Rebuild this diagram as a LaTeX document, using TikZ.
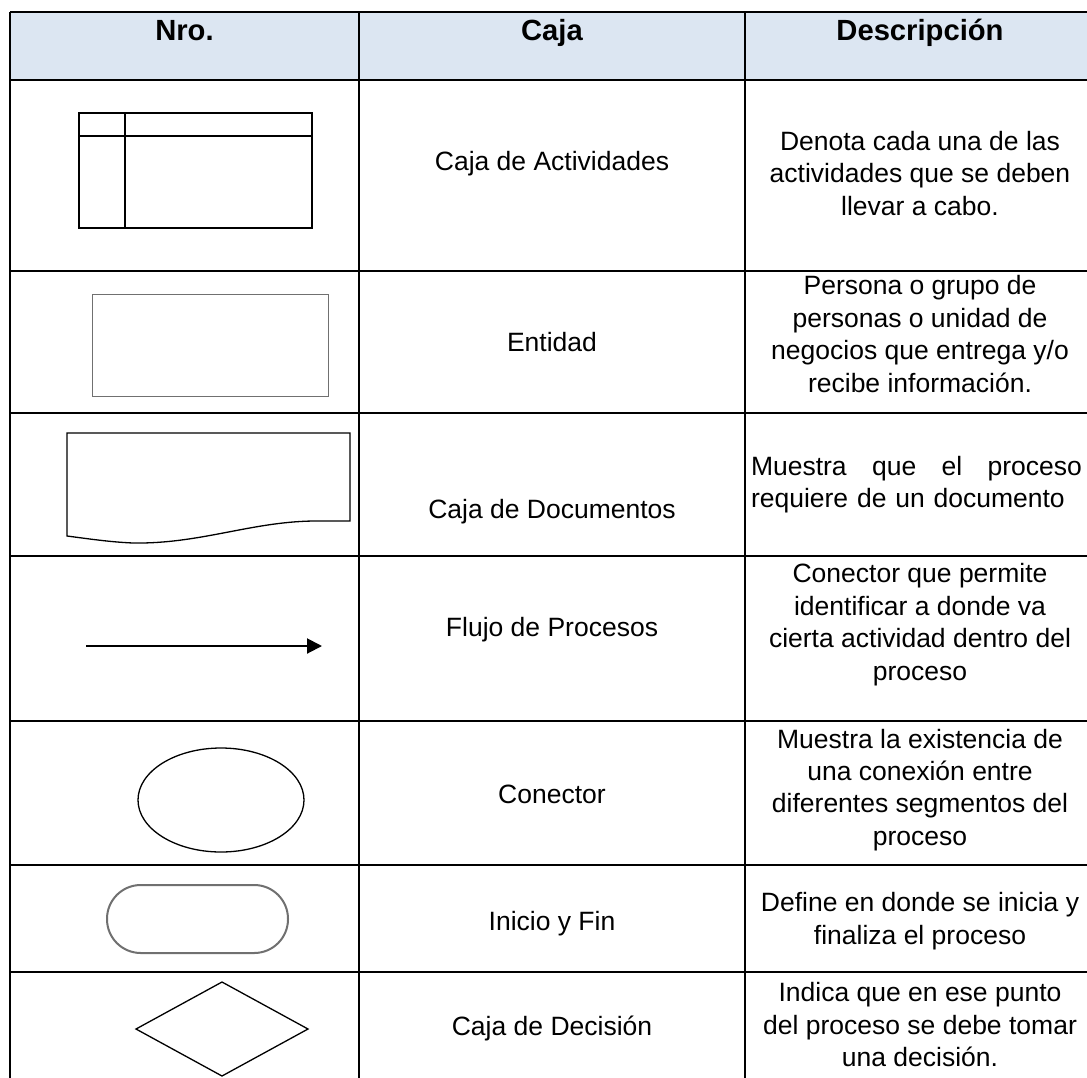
\documentclass[tikz,border=0pt]{standalone}
\usepackage{fontspec}
\setmainfont{Liberation Sans}
\usepackage{xcolor}
\usepackage{tikz}
\usetikzlibrary{arrows.meta}
\definecolor{headblue}{HTML}{DCE6F2}
\definecolor{shapegray}{HTML}{707070}

\begin{document}
\begin{tikzpicture}[x=0.5pt, y=-0.5pt]
\tikzstyle{rule}=[line width=1pt, black]
\tikzstyle{symbol}=[line width=0.65pt, black]
\tikzstyle{head}=[font=\fontsize{14.6}{17}\selectfont\bfseries, anchor=base, inner sep=0pt]
\tikzstyle{boxname}=[font=\fontsize{13.25}{16.2}\selectfont, anchor=base, inner sep=0pt]
\tikzstyle{desc}=[font=\fontsize{13.25}{16.2}\selectfont, align=center, anchor=base, inner sep=0pt]
\useasboundingbox (0,0) rectangle (1087,1077);
\clip (0,0) rectangle (1087,1077);

% table
\fill[headblue] (10,12) rectangle (1096,80);
\draw[rule]
(10,12) -- (1096,12)
(10,80) -- (1096,80)
(10,271) -- (1096,271)
(10,413) -- (1096,413)
(10,556) -- (1096,556)
(10,721) -- (1096,721)
(10,865) -- (1096,865)
(10,972) -- (1096,972)
(10,12) -- (10,1080)
(359,12) -- (359,1080)
(745,12) -- (745,1080)
(1096,12) -- (1096,1080);

\node[head] (hnro) at (184.5,40) {Nro.};
\node[head] (hcaja) at (552,40) {Caja};
\node[head] (hdesc) at (920,40) {Descripción};

% symbols
\draw[symbol] (79,113) rectangle (312,228)
(79,136) -- (312,136)
(125,113) -- (125,228);
\draw[line width=0.5pt, shapegray] (92,294) rectangle (328,396);
\draw[symbol] (67,433) -- (350,433) -- (350,521) -- (313,521)
.. controls (250,522) and (200,544) .. (133,543)
.. controls (110,542) and (90,539) .. (67,536) -- cycle;
\coordinate (flowA) at (86,646);
\coordinate (flowB) at (322,646);
\draw[line width=1pt, -{Triangle[length=7.5pt, width=7.5pt]}] (flowA) -- (flowB);
\draw[symbol] (221,800) ellipse [x radius=41.5pt, y radius=26pt];
\draw[line width=1pt, shapegray, rounded corners=16.9pt] (107,885) rectangle (288,953);
\draw[symbol] (136,1029) -- (222,982) -- (308,1029) -- (222,1076) -- cycle;

% names
\node[boxname] (nact) at (552,170) {Caja de Actividades};
\node[boxname] (nent) at (552,351) {Entidad};
\node[boxname] (ndoc) at (552,518) {Caja de Documentos};
\node[boxname] (nflu) at (552,636) {Flujo de Procesos};
\node[boxname] (ncon) at (552,803) {Conector};
\node[boxname] (nini) at (552,930) {Inicio y Fin};
\node[boxname] (ndec) at (552,1035) {Caja de Decisión};

% descriptions (base = last line)
\node[desc] (dact) at (920,215) {Denota cada una de las\\actividades que se deben\\llevar a cabo.};
\node[desc] (dent) at (920,392) {Persona o grupo de\\personas o unidad de\\negocios que entrega y/o\\recibe información.};
\node[desc, align=left, text width=165.5pt] (ddoc) at (916.5,475) {Muestra\hfill que\hfill el\hfill proceso\\requiere de un documento};
\node[desc] (dflu) at (920,680) {Conector que permite\\identificar a donde va\\cierta actividad dentro del\\proceso};
\node[desc] (dcon) at (920,845.2) {Muestra la existencia de\\una conexión entre\\diferentes segmentos del\\proceso};
\node[desc] (dini) at (920,944.1) {Define en donde se inicia y\\finaliza el proceso};
\node[desc] (ddec) at (920,1066.5) {Indica que en ese punto\\del proceso se debe tomar\\una decisión.};
\end{tikzpicture}
\end{document}
